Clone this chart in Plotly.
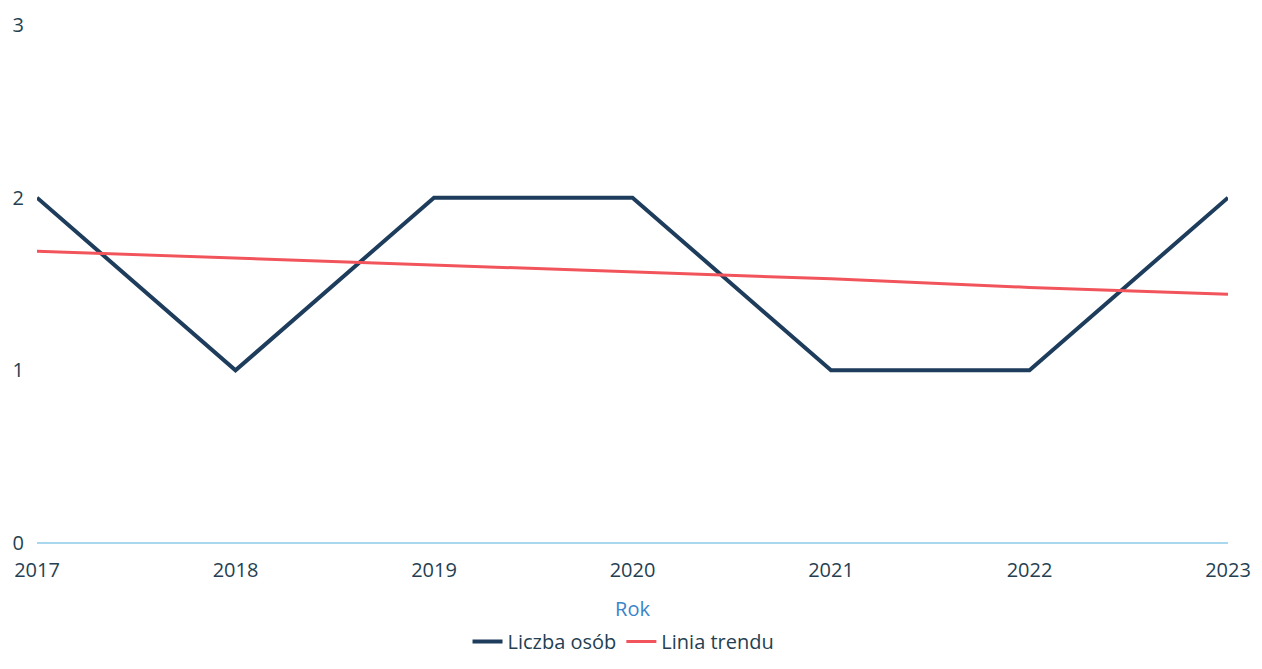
import plotly.graph_objects as go

years = ["2017", "2018", "2019", "2020", "2021", "2022", "2023"]
liczba_osob = [2, 1, 2, 2, 1, 1, 2]
linia_trendu = [1.69, 1.65, 1.61, 1.57, 1.53, 1.48, 1.44]
y_ticks = [0, 1, 2, 3]

fig = go.Figure()
fig.add_trace(go.Scatter(x=years, y=liczba_osob, mode="lines", name="Liczba osób",
                         line=dict(color="#1e3d5c", width=4)))
fig.add_trace(go.Scatter(x=years, y=linia_trendu, mode="lines", name="Linia trendu",
                         line=dict(color="#f2545b", width=3)))

font_family = "Open Sans, Noto Sans, sans-serif"
fig.update_layout(
    width=1246, height=653,
    margin=dict(l=29, r=26, t=17, b=118, autoexpand=False),
    plot_bgcolor="white", paper_bgcolor="white",
    font=dict(family=font_family, size=20, color="#253f52"),
    showlegend=True,
    legend=dict(orientation="h", x=0.494, xanchor="center", xref="container",
                y=0.03, yanchor="middle", yref="container",
                font=dict(size=20, color="#253f52"), itemwidth=30),
    xaxis=dict(type="category", range=[0, 6], showgrid=False, zeroline=False,
               showline=False, ticks="", tickfont=dict(size=20), automargin=False,
               ticklabelstandoff=13,
               title=dict(text="Rok", font=dict(size=20, color="#3a84c9"), standoff=21)),
    yaxis=dict(range=[0, 3], tickvals=y_ticks, showgrid=False, zeroline=True,
               zerolinecolor="#a9d7ee", zerolinewidth=1.5, showline=False, ticks="",
               tickfont=dict(size=20), automargin=False, ticklabelstandoff=12),
)
fig.write_html("out.html")
